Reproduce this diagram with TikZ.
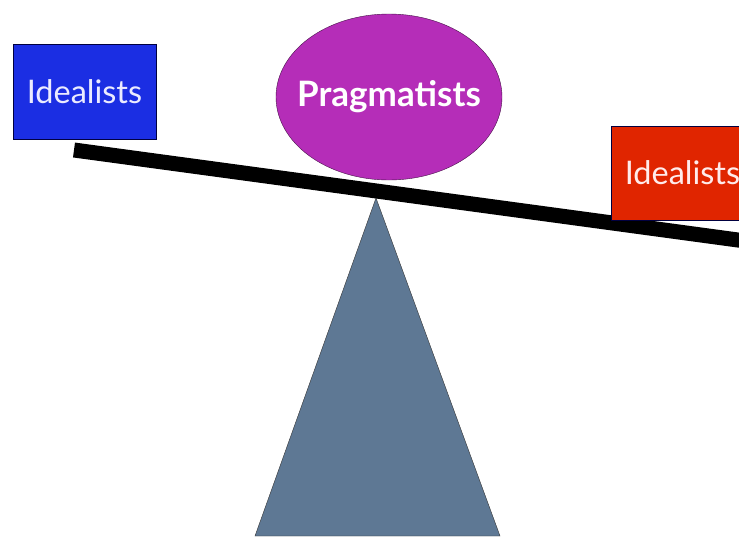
\documentclass[tikz,border=0pt]{standalone}
\usepackage{fontspec}
\setmainfont{Lato}
\usetikzlibrary{shapes.geometric}
\definecolor{idealblue}{HTML}{1B2EE3}
\definecolor{idealred}{HTML}{E02500}
\definecolor{pragmagenta}{HTML}{B52DB8}
\definecolor{pivotslate}{HTML}{5E7894}
\begin{document}
\begin{tikzpicture}[x=1pt,y=-1pt,
	sidebox/.style={draw=black!75!blue,thin,minimum width=143pt,minimum height=95pt,inner sep=0pt,font=\fontsize{32.5}{36}\selectfont},
	middle/.style={ellipse,draw=black!60!pragmagenta,thin,fill=pragmagenta,minimum width=226pt,minimum height=166pt,inner sep=0pt},
	middletext/.style={text=white,inner sep=0pt,font=\fontsize{35}{40}\selectfont\bfseries}]
		\useasboundingbox (0,0) rectangle (739,536);
		\clip (0,0) rectangle (739,536);
		\fill[color=white] (0,0) rectangle (739,536);
		% pivot
		\filldraw[fill=pivotslate,draw=black!80,thin] (376,198) -- (500,536) -- (255,536) -- cycle;
		\node[middle] (pragmatists) at (389,97) {};
		\node[middletext] (pragmalabel) at (pragmatists) {Pragmatists};
		% beam
		\draw[color=black,line width=15pt] (74,150) -- (760,243);
		\node[sidebox,fill=idealblue,text=blue!8] (leftideal) at (84.5,92) {Idealists};
		\node[sidebox,fill=idealred,text=red!8,minimum height=94pt] (rightideal) at (682.5,173) {Idealists};
	\end{tikzpicture}
\end{document}
